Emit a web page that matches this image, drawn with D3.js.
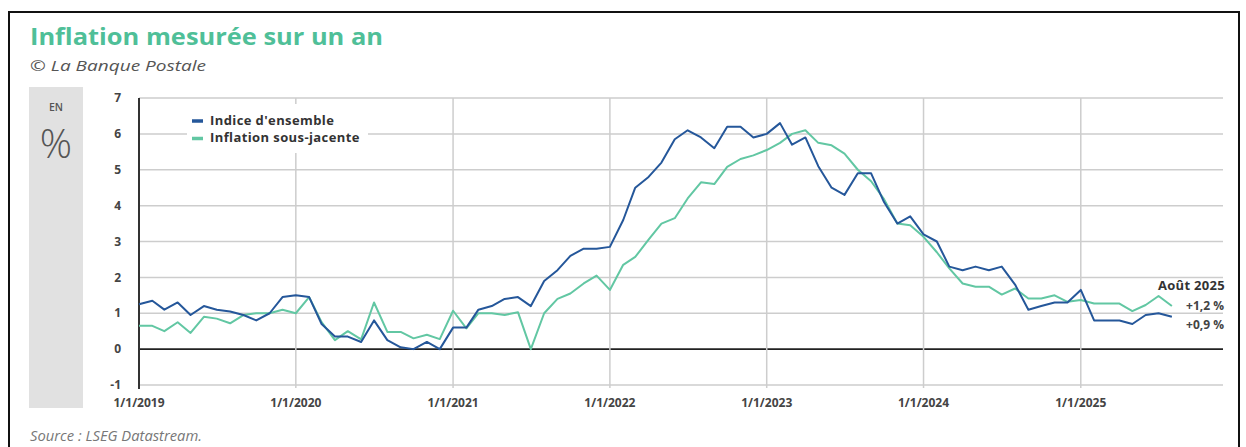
<!DOCTYPE html>
<html><head><meta charset="utf-8">
<script src="https://cdn.jsdelivr.net/npm/d3@7"></script>
<style>
html,body{margin:0;padding:0;background:#fff;}
svg{display:block;font-family:"Open Sans",sans-serif;}
</style></head>
<body>
<svg id="c" width="1246" height="447"></svg>
<script>
// ---- data ----
const startMonth = "2019-01";
const indiceEnsemble = [
  1.25,1.35,1.1,1.3,0.95,1.2,1.1,1.05,0.95,0.8,1.0,1.45,
  1.5,1.45,0.7,0.35,0.35,0.2,0.8,0.25,0.05,0.0,0.2,0.0,
  0.6,0.6,1.1,1.2,1.4,1.45,1.2,1.9,2.2,2.6,2.8,2.8,
  2.85,3.6,4.5,4.8,5.2,5.85,6.1,5.9,5.6,6.2,6.2,5.9,
  6.0,6.3,5.7,5.9,5.1,4.5,4.3,4.9,4.9,4.1,3.5,3.7,
  3.2,3.0,2.3,2.2,2.3,2.2,2.3,1.8,1.1,1.2,1.3,1.3,
  1.65,0.8,0.8,0.8,0.7,0.95,1.0,0.9
];
const inflationSousJacente = [
  0.65,0.65,0.5,0.75,0.45,0.9,0.85,0.72,0.95,1.0,1.0,1.1,
  1.0,1.45,0.75,0.25,0.5,0.27,1.3,0.48,0.48,0.3,0.4,0.28,
  1.07,0.58,1.0,1.0,0.95,1.03,0.0,1.0,1.4,1.55,1.83,2.05,
  1.65,2.35,2.57,3.05,3.5,3.65,4.2,4.65,4.6,5.08,5.3,5.4,
  5.55,5.75,6.0,6.1,5.75,5.68,5.45,5.0,4.68,4.18,3.5,3.45,
  3.13,2.7,2.25,1.83,1.74,1.74,1.52,1.69,1.41,1.41,1.5,1.32,
  1.37,1.27,1.27,1.27,1.06,1.23,1.48,1.2
];
const seriesNames = ["Indice d'ensemble","Inflation sous-jacente"];
const yTicks = [-1,0,1,2,3,4,5,6,7];
const xTickYears = [2019,2020,2021,2022,2023,2024,2025];
const endLabels = ["Août 2025","+1,2 %","+0,9 %"];
const title = "Inflation mesurée sur un an";
const subtitle = "© La Banque Postale";
const source = "Source : LSEG Datastream.";

// ---- build ----
const colBlue = "#25579a", colGreen = "#62c7a3";
const parse = d3.timeParse("%Y-%m");
const d0 = parse(startMonth);
const dates = indiceEnsemble.map((_,i)=>d3.timeMonth.offset(d0,i));

const svg = d3.select("#c");
svg.append("rect").attr("x",9).attr("y",12).attr("width",1230).attr("height",460)
  .attr("fill","#fff").attr("stroke","#111").attr("stroke-width",2);

svg.append("text").attr("x",30).attr("y",45).text(title)
  .attr("fill","#4fbf98").attr("font-weight",700).attr("font-size",23)
  .attr("textLength",353).attr("lengthAdjust","spacingAndGlyphs");
svg.append("text").attr("x",30).attr("y",71).text(subtitle)
  .attr("fill","#555").attr("font-style","italic").attr("font-size",14)
  .attr("textLength",176).attr("lengthAdjust","spacingAndGlyphs");
svg.append("text").attr("x",30).attr("y",441).text(source)
  .attr("fill","#777").attr("font-style","italic").attr("font-size",14)
  .attr("textLength",172).attr("lengthAdjust","spacingAndGlyphs");

// unit box
svg.append("rect").attr("x",29).attr("y",87).attr("width",54).attr("height",321).attr("fill","#e1e1e1");
svg.append("text").attr("x",56).attr("y",111).attr("text-anchor","middle").text("EN")
  .attr("fill","#555").attr("font-size",10.5).attr("font-weight",600);
svg.append("text").attr("x",56).attr("y",158).attr("text-anchor","middle").text("%")
  .attr("fill","#555").attr("font-size",40).attr("font-weight",300);

const x = d3.scaleTime().domain([new Date(2019,0,1), new Date(2025,10,28)]).range([139,1223]);
const y = d3.scaleLinear().domain([-1,7]).range([385,98]);

// horizontal grid
const g = svg.append("g");
g.selectAll("line.h").data(yTicks).join("line")
  .attr("x1",139).attr("x2",1223).attr("y1",d=>y(d)).attr("y2",d=>y(d))
  .attr("stroke",d=>d===0?"#222":"#cdcdcd").attr("stroke-width",d=>d===0?1.6:1.5);
// vertical grid
g.selectAll("line.v").data(xTickYears.slice(1)).join("line")
  .attr("x1",d=>x(new Date(d,0,1))).attr("x2",d=>x(new Date(d,0,1)))
  .attr("y1",y(7)).attr("y2",y(-1)+3)
  .attr("stroke","#cdcdcd").attr("stroke-width",1.5);
// y axis line
svg.append("line").attr("x1",139).attr("x2",139).attr("y1",y(7)).attr("y2",y(-1)+4)
  .attr("stroke","#333").attr("stroke-width",2);

// y labels
svg.append("g").selectAll("text").data(yTicks).join("text")
  .attr("x",121).attr("y",d=>y(d)).attr("dy","0.35em").attr("text-anchor","end")
  .text(d=>d).attr("fill","#444").attr("font-weight",700).attr("font-size",12);
// x labels
const fmt = d3.timeFormat("%-m/%-d/%Y");
svg.append("g").selectAll("text").data(xTickYears).join("text")
  .attr("x",d=>x(new Date(d,0,1))).attr("y",407).attr("text-anchor","middle")
  .text(d=>fmt(new Date(d,0,1))).attr("fill","#444").attr("font-weight",700).attr("font-size",12);

// lines
const line = d3.line().x((d,i)=>x(dates[i])).y(d=>y(d));
svg.append("path").datum(inflationSousJacente).attr("d",line).attr("fill","none")
  .attr("stroke",colGreen).attr("stroke-width",2).attr("stroke-linejoin","round");
svg.append("path").datum(indiceEnsemble).attr("d",line).attr("fill","none")
  .attr("stroke",colBlue).attr("stroke-width",2).attr("stroke-linejoin","round");

// legend
const lg = svg.append("g");
lg.append("rect").attr("x",187).attr("y",104).attr("width",181).attr("height",49).attr("fill","#fff");
[colBlue,colGreen].forEach((c,i)=>{
  const yy = 120 + i*17.5;
  lg.append("line").attr("x1",192).attr("x2",203).attr("y1",yy+1).attr("y2",yy+1)
    .attr("stroke",c).attr("stroke-width",3.5);
  lg.append("text").attr("x",210).attr("y",yy).attr("dy","0.35em").text(seriesNames[i])
    .attr("fill","#333").attr("font-weight",700).attr("font-size",13).attr("letter-spacing",0.4);
});

// end labels
const lastIdx = indiceEnsemble.length-1;
svg.append("text").attr("x",1225).attr("y",285).attr("dy","0.35em").attr("text-anchor","end")
  .text(endLabels[0]).attr("fill","#333").attr("font-weight",700).attr("font-size",13).attr("letter-spacing",0.3);
svg.append("text").attr("x",1224).attr("y",y(inflationSousJacente[lastIdx])).attr("dy","0.35em").attr("text-anchor","end")
  .text(endLabels[1]).attr("fill","#444").attr("font-weight",700).attr("font-size",12);
svg.append("text").attr("x",1224).attr("y",y(indiceEnsemble[lastIdx])+8).attr("dy","0.35em").attr("text-anchor","end")
  .text(endLabels[2]).attr("fill","#444").attr("font-weight",700).attr("font-size",12);
</script>
</body></html>
